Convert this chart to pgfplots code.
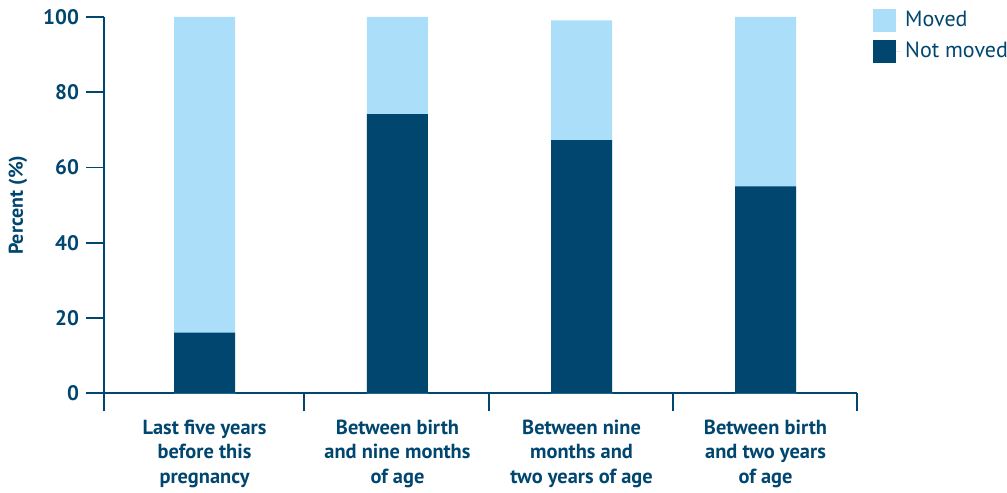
\documentclass[border=0pt]{standalone}
\usepackage{fontspec}
\setmainfont{PT Sans}
\usepackage{pgfplots}
\pgfplotsset{compat=1.18}
\definecolor{darkb}{HTML}{00466F}
\definecolor{lightb}{HTML}{ABDFF9}
\begin{document}
\begin{tikzpicture}
\begin{axis}[
  scale only axis, width=376.5pt, height=188.15pt,
  xmin=0, xmax=4, ymin=0, ymax=100,
  clip=false,
  axis x line*=bottom, axis y line*=left,
  axis line style={darkb, line width=0.9pt, -},
  ytick={0,20,...,100},
  xtick={0.534,1.559,2.537,3.514},
  xticklabels={{Last five years\\before this\\pregnancy},{Between birth\\and nine months\\of age},{Between nine\\months and\\two years of age},{Between birth\\and two years\\of age}},
  minor xtick={0,1.064,2.044,3.021,4},
  major x tick style={draw=none},
  major tick length=9pt, minor tick length=9pt,
  tick align=outside,
  tick style={darkb, line width=0.9pt},
  /pgf/number format/assume math mode=true,
  yticklabel style={font=\bfseries\fontsize{10.5}{12}\selectfont, text=darkb},
  xticklabel style={align=center, font=\bfseries\fontsize{10.2}{12.4}\selectfont, text=darkb, anchor=north, yshift=-0.6pt},
  ylabel={\bfseries Percent (\%)},
  every axis y label/.style={at={(axis description cs:-0.1142,0.5)}, rotate=90, anchor=center, font=\fontsize{10}{12}\selectfont, text=darkb},
  legend style={at={(axis description cs:1.021,1.0266)}, anchor=north west, draw=none, fill=none, inner sep=0pt, row sep=2pt, font=\fontsize{11}{13}\selectfont, text=darkb, cells={anchor=west}},
]
\addplot[ybar, bar width=30.5pt, bar shift=0pt, fill=lightb, draw=none,
  legend image code/.code={\fill[lightb] (0pt,-5.75pt) rectangle (11.5pt,5.75pt); \path (0pt,0pt) -- (14pt,0pt);}]
  coordinates {(0.534,100) (1.559,100) (2.537,99.1) (3.514,100)};
\addlegendentry{Moved}
\addplot[ybar, bar width=30.5pt, bar shift=0pt, fill=darkb, draw=none,
  legend image code/.code={\fill[darkb] (0pt,-5.75pt) rectangle (11.5pt,5.75pt); \path (0pt,0pt) -- (14pt,0pt);}]
  coordinates {(0.534,16.1) (1.559,74.2) (2.537,67.3) (3.514,55)};
\addlegendentry{Not moved}
\coordinate (BL) at (rel axis cs:-0.1381,-0.2649);
\coordinate (TR) at (rel axis cs:1.1992,1.0452);
\end{axis}
\pgfresetboundingbox
\path[use as bounding box] (BL) rectangle (TR);
\end{tikzpicture}
\end{document}
